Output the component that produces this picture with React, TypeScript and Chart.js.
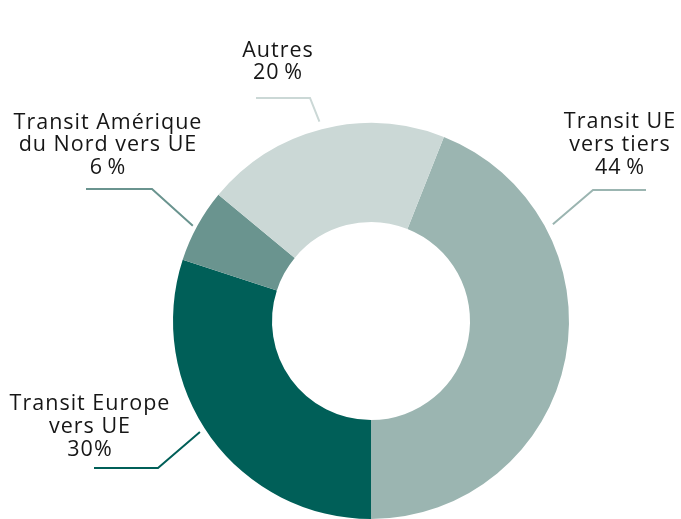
import React, { useEffect, useRef } from "react";
import { Chart, registerables } from "chart.js";

Chart.register(...registerables);

const categories = [
  "Transit UE vers tiers",
  "Transit Europe vers UE",
  "Transit Amérique du Nord vers UE",
  "Autres",
];
const values = [44, 30, 6, 20];
const labelLines = [
  ["Transit UE", "vers tiers", "44\u2009%"],
  ["Transit Europe", "vers UE", "30%"],
  ["Transit Amérique", "du Nord vers UE", "6\u2009%"],
  ["Autres", "20\u2009%"],
];
const colors = ["#9bb5b1", "#005f58", "#6a948f", "#cbd8d6"];

// annotation layout (relative to doughnut centre, px)
const annot = [
  { a: 62, r: 206, ex: 222, ey: -131, endX: 275, tx: 249, ty: [-193, -170, -147] },
  { a: -123, r: 204, ex: -213, ey: 147, endX: -277, tx: -281, ty: [89, 112, 135] },
  { a: -61.9, r: 202, ex: -219, ey: -132, endX: -285, tx: -263, ty: [-192, -170, -147] },
  { a: -14.5, r: 206, ex: -61, ey: -223, endX: -115, tx: -93, ty: [-264, -242] },
];

const labelPlugin = {
  id: "leaderLabels",
  afterDraw(chart: any) {
    const ctx = chart.ctx;
    const meta = chart.getDatasetMeta(0);
    const arc0 = meta.data[0];
    const cx = arc0.x;
    const cy = arc0.y;
    ctx.save();
    annot.forEach((an, i) => {
      const rad = (an.a * Math.PI) / 180;
      const sx = cx + an.r * Math.sin(rad);
      const sy = cy - an.r * Math.cos(rad);
      ctx.strokeStyle = colors[i];
      ctx.lineWidth = 2;
      ctx.beginPath();
      ctx.moveTo(sx, sy);
      ctx.lineTo(cx + an.ex, cy + an.ey);
      ctx.lineTo(cx + an.endX, cy + an.ey);
      ctx.stroke();
      ctx.fillStyle = "#161616";
      ctx.font = "21.5px 'Open Sans', sans-serif";
      (ctx as any).letterSpacing = "1px";
      ctx.textAlign = "center";
      ctx.textBaseline = "alphabetic";
      labelLines[i].forEach((t, j) => {
        ctx.fillText(t, cx + an.tx, cy + an.ty[j]);
      });
    });
    ctx.restore();
  },
};

export default function App() {
  const ref = useRef<HTMLCanvasElement>(null);
  useEffect(() => {
    if (!ref.current) return;
    const chart = new Chart(ref.current, {
      type: "doughnut",
      data: {
        labels: categories,
        datasets: [
          {
            data: values,
            backgroundColor: colors,
            borderWidth: 0,
          },
        ],
      },
      options: {
        responsive: false,
        animation: false,
        rotation: 21.6,
        cutout: "50%",
        layout: { padding: { left: 172, right: 111, top: 123, bottom: -1 } },
        plugins: {
          legend: { display: false },
          tooltip: { enabled: false },
        },
      },
      plugins: [labelPlugin],
    });
    return () => chart.destroy();
  }, []);
  return (
    <div style={{ position: "absolute", left: 0, top: 0, width: 681, height: 519, background: "#fff" }}>
      <canvas ref={ref} width={681} height={519} />
    </div>
  );
}
